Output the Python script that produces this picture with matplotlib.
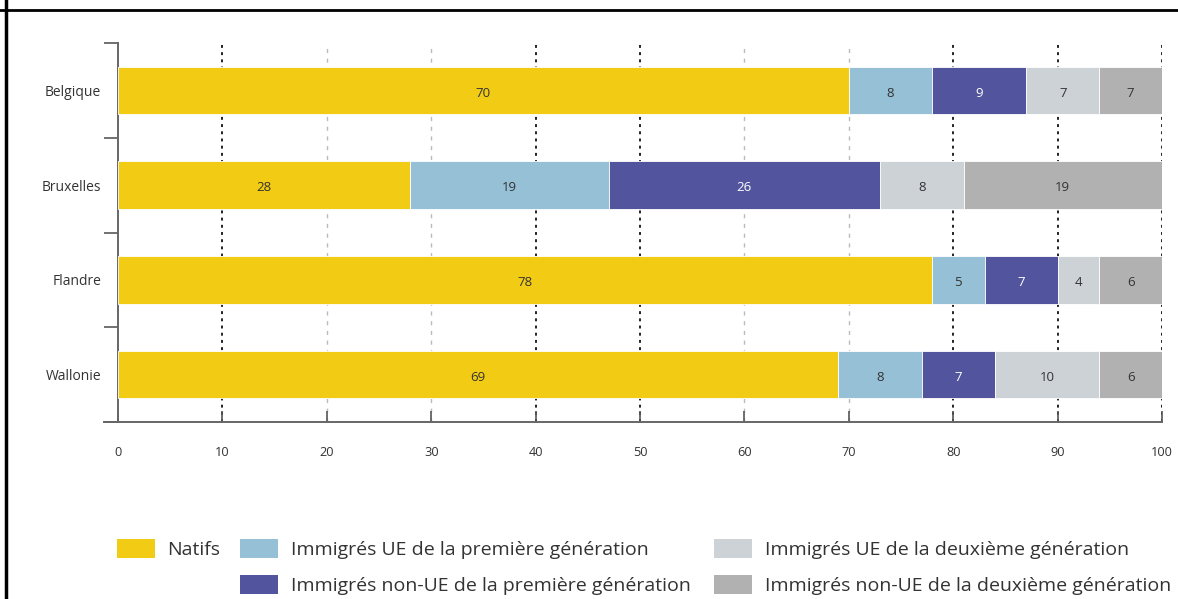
import matplotlib
matplotlib.use("Agg")
import matplotlib.pyplot as plt
from matplotlib.patches import Patch
from matplotlib.lines import Line2D

plt.rcParams['font.family'] = ['Open Sans', 'DejaVu Sans']

# données (%)
regions = ["Belgique", "Bruxelles", "Flandre", "Wallonie"]
natifs = [70, 28, 78, 69]
ue_1 = [8, 19, 5, 8]
non_ue_1 = [9, 26, 7, 7]
ue_2 = [7, 8, 4, 10]
non_ue_2 = [6, 19, 6, 6]
# valeurs affichées dans le dernier segment (arrondis de la source)
non_ue_2_labels = [7, 19, 6, 6]

series_names = [
    "Natifs",
    "Immigrés UE de la première génération",
    "Immigrés non-UE de la première génération",
    "Immigrés UE de la deuxième génération",
    "Immigrés non-UE de la deuxième génération",
]
colors = ["#F2CC14", "#96C0D6", "#52549D", "#CDD2D6", "#B1B1B1"]
text_colors = ["#333333", "#333333", "white", "#333333", "#333333"]

series = [natifs, ue_1, non_ue_1, ue_2, non_ue_2]
labels = [natifs, ue_1, non_ue_1, ue_2, non_ue_2_labels]

fig = plt.figure(figsize=(11.78, 5.99), dpi=100)
ax = fig.add_axes([118 / 1178, 1 - 422 / 599, (1162 - 118) / 1178, (422 - 43) / 599])

y = list(range(len(regions)))
left = [0] * len(regions)
for vals, labs, col, tcol in zip(series, labels, colors, text_colors):
    bars = ax.barh(y, vals, left=left, height=0.5, color=col,
                   edgecolor="white", linewidth=0.6, zorder=3)
    for b, lab in zip(bars, labs):
        ax.text(b.get_x() + b.get_width() / 2, b.get_y() + b.get_height() / 2 + 0.03,
                str(lab), ha="center", va="center", fontsize=9.5,
                color=tcol, zorder=4)
    left = [l + v for l, v in zip(left, vals)]

# grille verticale
dark = [10, 40, 50, 80, 90, 100]
light = [20, 30, 60, 70]
for xv in dark:
    ax.axvline(xv, color="#222222", lw=1.4, ls=(0, (1.5, 2.2)), zorder=1)
for xv in light:
    ax.axvline(xv, color="#bbbbbb", lw=1.0, ls=(0, (3, 4)), zorder=1)

ax.set_xlim(0, 100)
ax.set_ylim(3.5, -0.5)
ax.set_xticks(range(0, 101, 10))
ax.set_yticks(y)
ax.set_yticklabels(regions)
ax.set_yticks([-0.5, 0.5, 1.5, 2.5, 3.5], minor=True)

ax.tick_params(axis="y", which="major", length=0, pad=12, labelsize=10,
               labelcolor="#333333")
ax.tick_params(axis="y", which="minor", length=10, width=1.3,
               color="#666666", direction="out")
ax.tick_params(axis="x", which="major", length=8, width=1.2, direction="in",
               color="#555555", pad=17, labelsize=9.2, labelcolor="#333333")
for t in ax.get_yticklabels():
    t.set_va("center_baseline")

for s in ["top", "right"]:
    ax.spines[s].set_visible(False)
for s in ["left", "bottom"]:
    ax.spines[s].set_color("#666666")
    ax.spines[s].set_linewidth(1.4)
# l'axe x déborde un peu à gauche
ax.add_line(Line2D([-1.3, 0], [3.5, 3.5], color="#666666", lw=1.4,
                   clip_on=False))

# légende en trois colonnes
handles = [Patch(facecolor=c, edgecolor="none") for c in colors]
leg_kw = dict(loc="upper left", frameon=False, fontsize=14, borderpad=0,
              borderaxespad=0, handlelength=1.95, handleheight=1.13,
              handletextpad=0.65, labelspacing=0.8, labelcolor="#333333")
groups = [([0], 117), ([1, 2], 240), ([3, 4], 714)]
for idx, xpx in groups:
    fig.legend([handles[i] for i in idx], [series_names[i] for i in idx],
               bbox_to_anchor=(xpx / 1178, 1 - 539 / 599), **leg_kw)

# cadre
fig.add_artist(Line2D([0, 1], [1 - 10 / 599, 1 - 10 / 599], color="black",
                      lw=2, transform=fig.transFigure))
fig.add_artist(Line2D([6 / 1178, 6 / 1178], [0, 1], color="black", lw=2.5,
                      transform=fig.transFigure))

fig.savefig("out.png", dpi=100)
